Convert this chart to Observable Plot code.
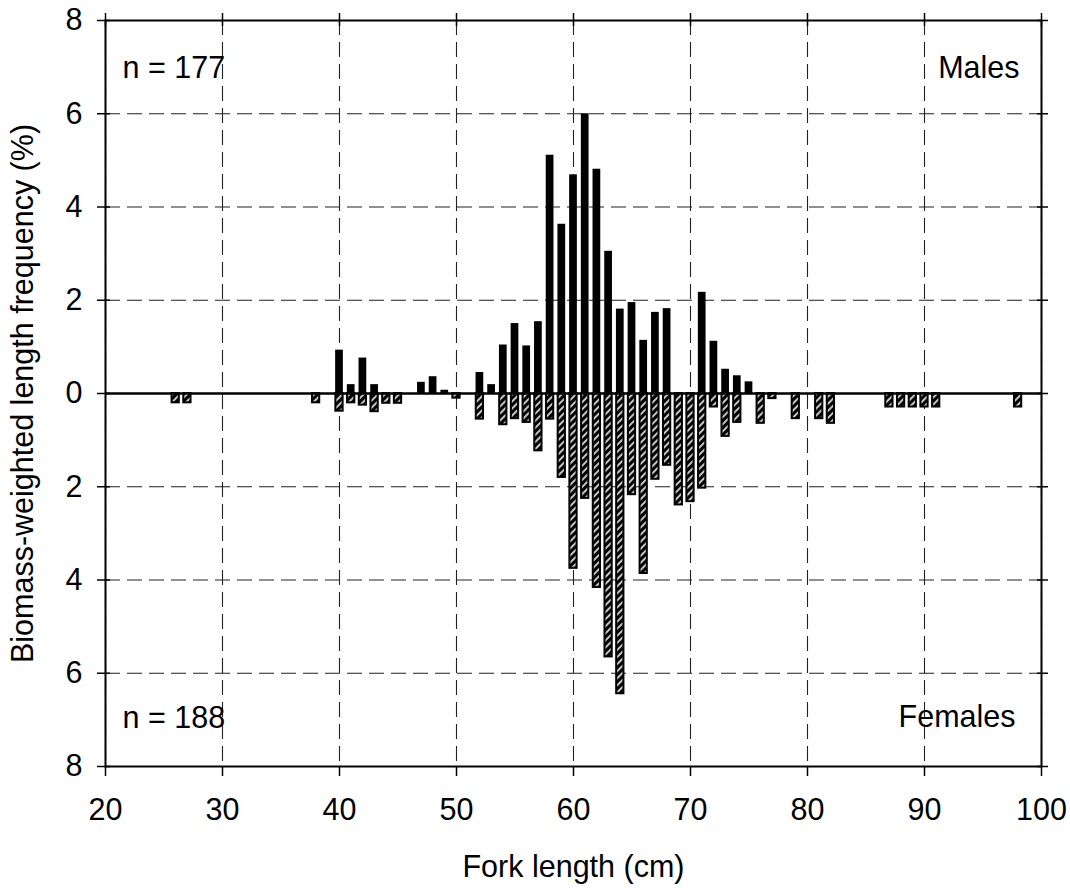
<!DOCTYPE html>
<html><head><meta charset="utf-8">
<script src="https://cdn.jsdelivr.net/npm/d3@7"></script>
<script src="https://cdn.jsdelivr.net/npm/@observablehq/plot@0.6"></script>
<style>body{margin:0;background:#fff}</style>
</head><body><div id="chart"></div>
<script>
// Fork length classes (cm) and biomass-weighted length frequency (%)
const maleLengths = [40,41,42,43,47,48,49,52,53,54,55,56,57,58,59,60,61,62,63,64,65,66,67,68,71,72,73,74,75];
const maleValues  = [0.93,0.19,0.76,0.19,0.24,0.36,0.07,0.45,0.19,1.04,1.50,1.02,1.54,5.11,3.63,4.69,6.00,4.81,3.05,1.81,1.95,1.14,1.74,1.82,2.17,1.12,0.52,0.38,0.25];
const femaleLengths = [26,27,38,40,41,42,43,44,45,50,52,54,55,56,57,58,59,60,61,62,63,64,65,66,67,68,69,70,71,72,73,74,76,77,79,81,82,87,88,89,90,91,98];
const femaleValues  = [0.20,0.20,0.20,0.38,0.20,0.25,0.39,0.21,0.21,0.10,0.55,0.67,0.54,0.62,1.23,0.55,1.80,3.75,2.25,4.16,5.65,6.44,2.17,3.86,1.84,1.54,2.39,2.32,2.03,0.29,0.92,0.62,0.64,0.11,0.54,0.54,0.64,0.29,0.29,0.29,0.29,0.29,0.29];
const xTicks = [20,30,40,50,60,70,80,90,100];
const yTicks = [-8,-6,-4,-2,0,2,4,6,8];
const maleLabel = "Males", femaleLabel = "Females";
const maleN = "n = 177", femaleN = "n = 188";
const xLabel = "Fork length (cm)";
const yLabel = "Biomass-weighted length frequency (%)";

const males = maleLengths.map((cm, i) => ({cm, v: maleValues[i]}));
const females = femaleLengths.map((cm, i) => ({cm, v: -femaleValues[i]}));

const gridStyle = {stroke: "#222", strokeOpacity: 1, strokeWidth: 1.1, strokeDasharray: "15,7"};
const blank = () => "";

const chart = Plot.plot({
  width: 1070, height: 890,
  marginLeft: 105, marginRight: 29, marginTop: 20, marginBottom: 124,
  style: {fontFamily: "'Liberation Sans', Arial, sans-serif", fontSize: "30.5px", color: "black", background: "white"},
  x: {domain: [20, 100]},
  y: {domain: [-8, 8]},
  marks: [
    Plot.gridX(xTicks, gridStyle),
    Plot.gridY(yTicks, gridStyle),
    Plot.rect(males, {x1: d => d.cm - 0.33, x2: d => d.cm + 0.33, y1: 0, y2: "v", fill: "black"}),
    Plot.rect(females, {x1: d => d.cm - 0.31, x2: d => d.cm + 0.31, y1: 0, y2: "v", fill: "url(#hatch)", stroke: "black", strokeWidth: 2}),
    Plot.ruleY([0], {stroke: "black", strokeWidth: 2.5}),
    Plot.frame({stroke: "black", strokeWidth: 2}),
    Plot.axisX(xTicks, {anchor: "bottom", tickSize: 10, tickPadding: 22, label: null, strokeWidth: 1.5}),
    Plot.axisX(xTicks, {anchor: "top", tickSize: 8, tickFormat: blank, label: null, strokeWidth: 1.5}),
    Plot.axisX(xTicks, {anchor: "top", tickSize: -5, tickFormat: blank, label: null, strokeWidth: 1.5}),
    Plot.axisY(yTicks, {anchor: "left", tickSize: 8, tickPadding: 15, tickFormat: d => Math.abs(d), label: null, strokeWidth: 1.5}),
    Plot.axisY(yTicks, {anchor: "left", tickSize: -5, tickFormat: blank, label: null, strokeWidth: 1.5}),
    Plot.axisY(yTicks, {anchor: "right", tickSize: 6, tickFormat: blank, label: null, strokeWidth: 1.5}),
    Plot.axisY(yTicks, {anchor: "right", tickSize: -5, tickFormat: blank, label: null, strokeWidth: 1.5}),
    Plot.text([maleN], {text: d => d, frameAnchor: "top-left", dx: 17, dy: 48, textAnchor: "start", lineAnchor: "middle"}),
    Plot.text([maleLabel], {text: d => d, frameAnchor: "top-right", dx: -22, dy: 48, textAnchor: "end", lineAnchor: "middle"}),
    Plot.text([femaleN], {text: d => d, frameAnchor: "bottom-left", dx: 17, dy: -48, textAnchor: "start", lineAnchor: "middle"}),
    Plot.text([femaleLabel], {text: d => d, frameAnchor: "bottom-right", dx: -26, dy: -49, textAnchor: "end", lineAnchor: "middle"}),
    Plot.text([xLabel], {text: d => d, frameAnchor: "bottom", dy: 101, lineAnchor: "middle"}),
    Plot.text([yLabel], {text: d => d, frameAnchor: "left", dx: -82, rotate: -90, textAnchor: "middle", lineAnchor: "middle"})
  ]
});

const svg = chart.tagName.toLowerCase() === "svg" ? chart : chart.querySelector("svg");
const ns = "http://www.w3.org/2000/svg";
const defs = document.createElementNS(ns, "defs");
const pat = document.createElementNS(ns, "pattern");
pat.setAttribute("id", "hatch");
pat.setAttribute("patternUnits", "userSpaceOnUse");
pat.setAttribute("width", "5");
pat.setAttribute("height", "5");
pat.setAttribute("patternTransform", "rotate(45)");
const bg = document.createElementNS(ns, "rect");
bg.setAttribute("width", "5"); bg.setAttribute("height", "5"); bg.setAttribute("fill", "black");
const st = document.createElementNS(ns, "rect");
st.setAttribute("width", "2"); st.setAttribute("height", "5"); st.setAttribute("fill", "#c4c4c4");
pat.appendChild(bg); pat.appendChild(st);
defs.appendChild(pat);
svg.insertBefore(defs, svg.firstChild);

document.getElementById("chart").appendChild(chart);
</script>
</body></html>
